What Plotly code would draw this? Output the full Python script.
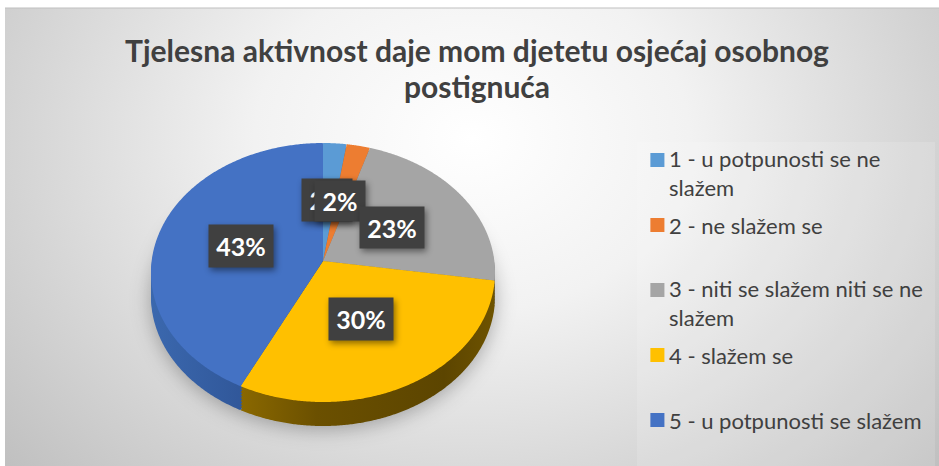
import json
import urllib.parse
import plotly.graph_objects as go

W, H = 939, 466

labels = [
    "1 - u potpunosti se ne<br>slažem",
    "2 - ne slažem se",
    "3 - niti se slažem niti se ne<br>slažem",
    "4 - slažem se",
    "5 - u potpunosti se slažem",
]
values = [2.4, 2.4, 22.6, 29.9, 42.7]
top_colors = ["#5B9BD5", "#ED7D31", "#A5A5A5", "#FFC000", "#4472C4"]
wall_colors = ["#3F6F9B", "#AD5A22", "#787878", "#7A5C00", "#2F5597"]
title_text = "Tjelesna aktivnost daje mom djetetu osjećaj osobnog<br>postignuća"

# Pie geometry on the page (px): apex position and the reach of the tilted disc
CX, APEX_Y, R = 323, 261, 172
REACH_UP, REACH_DOWN = 118, 141
DEPTH = 24
LAYERS = list(range(DEPTH, 0, -3))
BASE_CY = H / 2

DOMAIN = dict(
    x=[(CX - R) / W, (CX + R) / W],
    y=[1 - (BASE_CY + R) / H, 1 - (BASE_CY - R) / H],
)

fig = go.Figure()
offsets = []

# soft shadow
fig.add_trace(go.Pie(
    labels=labels, values=values, sort=False, direction="clockwise", rotation=0,
    marker=dict(colors=["rgba(0,0,0,0.3)"] * 5, line=dict(width=0)),
    textinfo="none", showlegend=False, hoverinfo="skip", domain=DOMAIN,
))
offsets.append(DEPTH + 3)

# side wall
for off in LAYERS:
    fig.add_trace(go.Pie(
        labels=labels, values=values, sort=False, direction="clockwise", rotation=0,
        marker=dict(colors=wall_colors, line=dict(width=0)),
        textinfo="none", showlegend=False, hoverinfo="skip", domain=DOMAIN,
    ))
    offsets.append(off)

# top face
fig.add_trace(go.Pie(
    labels=labels, values=values, sort=False, direction="clockwise", rotation=0,
    marker=dict(colors=top_colors, line=dict(width=0)),
    textinfo="none", showlegend=True, domain=DOMAIN,
))
offsets.append(0)

bg_svg = (
    '<svg xmlns="http://www.w3.org/2000/svg" width="934" height="458">'
    '<defs><radialGradient id="g" gradientUnits="userSpaceOnUse" cx="467" cy="130" r="620" '
    'gradientTransform="translate(467 130) scale(1 0.8) translate(-467 -130)">'
    '<stop offset="0" stop-color="#ffffff"/><stop offset="0.35" stop-color="#f2f2f2"/>'
    '<stop offset="1" stop-color="#c0c0c0"/></radialGradient></defs>'
    '<rect width="934" height="458" fill="url(#g)"/></svg>'
)

BOXES = [
    (302, 352, 179, 221, 0),
    (315, 365, 181, 221, 1),
    (360, 424, 207, 248, 2),
    (329, 393, 298, 340, 3),
    (209, 273, 225, 267, 4),
]

annotations = []
for x0, x1, y0, y1, i in BOXES:
    annotations.append(dict(
        x=(x0 + x1) / 2 / W, y=1 - (y0 + y1) / 2 / H, xref="paper", yref="paper",
        xanchor="center", yanchor="middle",
        text=f"<b>{round(values[i])}%</b>", showarrow=False, width=x1 - x0, height=y1 - y0,
        bgcolor="#404040", align="center", valign="middle", borderpad=0,
        font=dict(family="Lato, Carlito, sans-serif", size=25, color="white"),
    ))

fig.update_layout(
    width=W, height=H, margin=dict(l=0, r=0, t=0, b=0), paper_bgcolor="white",
    title=dict(
        text=f"<b>{title_text}</b>", x=477 / W, xanchor="center", y=1 - 62 / H, yanchor="top",
        font=dict(family="Lato, Carlito, sans-serif", size=30, color="#404040"),
    ),
    legend=dict(
        x=629 / W, y=1 - 142 / H, xanchor="left", yanchor="top", bgcolor="rgba(0,0,0,0)",
        font=dict(family="Lato, Carlito, sans-serif", size=22, color="#404040"),
    ),
    images=[dict(
        source="data:image/svg+xml," + urllib.parse.quote(bg_svg), xref="paper", yref="paper",
        x=5 / W, y=1 - 8 / H, sizex=934 / W, sizey=458 / H, xanchor="left", yanchor="top",
        sizing="stretch", layer="below",
    )],
    shapes=[
        dict(type="rect", xref="paper", yref="paper", x0=637 / W, x1=935 / W, y0=0, y1=1 - 142 / H,
             fillcolor="rgba(255,255,255,0.14)", line=dict(width=0), layer="below"),
        dict(type="line", xref="paper", yref="paper", x0=5 / W, x1=1, y0=1 - 8 / H, y1=1 - 8 / H,
             line=dict(color="#bfbfbf", width=1), layer="below"),
    ],
    annotations=annotations,
)

post = """
document.body.style.margin = '0';
var offsets = %s, base = %f, CX = %f, AY = %f, R = %f, UP = %f, DOWN = %f;
var p = (DOWN - UP) / (DOWN + UP), a = UP * (1 + p), bx = R * Math.sqrt(1 - p * p);
var svg = document.querySelector('svg.main-svg');
var NS = 'http://www.w3.org/2000/svg';
var defs = svg.querySelector('defs');
var f = document.createElementNS(NS,'filter');
f.setAttribute('id','pshadow'); f.setAttribute('x','-20%%'); f.setAttribute('y','-20%%');
f.setAttribute('width','140%%'); f.setAttribute('height','140%%');
var b = document.createElementNS(NS,'feGaussianBlur'); b.setAttribute('stdDeviation','10');
f.appendChild(b); defs.appendChild(f);
function grad(id, stops){
  var g = document.createElementNS(NS,'linearGradient');
  g.setAttribute('id', id);
  stops.forEach(function(c){
    var s = document.createElementNS(NS,'stop');
    s.setAttribute('offset', c[0]); s.setAttribute('stop-color', c[1]); g.appendChild(s);
  });
  defs.appendChild(g);
}
grad('wallY', [[0,'#8a6800'],[0.3,'#6b5000'],[0.8,'#5c4500'],[1,'#6e5300']]);
grad('wallB', [[0,'#3b68ae'],[0.6,'#2f5597'],[1,'#264478']]);
function warp(path){
  var L = path.getTotalLength(), n = 500, d = '';
  for(var i = 0; i <= n; i++){
    var q = path.getPointAtLength(L * i / n);
    var u = (q.x - CX) / R, v = (q.y - base) / R, w = 1 - p * v;
    d += (i ? 'L' : 'M') + (CX + bx * u / w).toFixed(2) + ',' + (AY + a * v / w).toFixed(2);
  }
  path.setAttribute('d', d + 'Z');
  path.removeAttribute('transform');
}
var traces = document.querySelectorAll('.pielayer .trace');
traces.forEach(function(t,i){
  var paths = t.querySelectorAll('path.surface');
  paths.forEach(warp);
  t.setAttribute('transform','translate(0,'+offsets[i]+')');
  if(i === 0){ t.setAttribute('filter','url(#pshadow)'); }
  else if(i < traces.length-1){
    paths[3].style.fill='url(#wallY)'; paths[4].style.fill='url(#wallB)';
  }
});
document.querySelectorAll('.annotation rect.bg').forEach(function(r){
  r.style.filter='drop-shadow(2px 3px 3px rgba(0,0,0,0.45))';
});
var items = document.querySelectorAll('.legend .traces');
items.forEach(function(g,i){
  g.setAttribute('transform','translate(0,'+(18+65*i)+')');
  var sym = g.querySelector('.legendsymbols');
  if(sym) sym.setAttribute('transform','translate(5,0) scale(1.17)');
  var lines = g.querySelectorAll('tspan.line');
  lines.forEach(function(ts,j){ if(j>0) ts.setAttribute('dy','29'); });
  if(lines.length > 1){
    var tx = g.querySelector('text.legendtext');
    if(tx) tx.setAttribute('transform','translate(0,13)');
  }
});
var title = document.querySelector('.gtitle');
if(title){ title.querySelectorAll('tspan.line').forEach(function(ts,j){ if(j>0) ts.setAttribute('dy','36'); }); }
document.querySelectorAll('.legend .scrollbox').forEach(function(s){s.removeAttribute('clip-path');s.style.clipPath='none';});
var lg = document.querySelector('.legend');
if(lg){lg.removeAttribute('clip-path');}
""" % (json.dumps(offsets), BASE_CY, CX, APEX_Y, R, REACH_UP, REACH_DOWN)

fig.write_html("out.html", post_script=post, config=dict(displayModeBar=False))
